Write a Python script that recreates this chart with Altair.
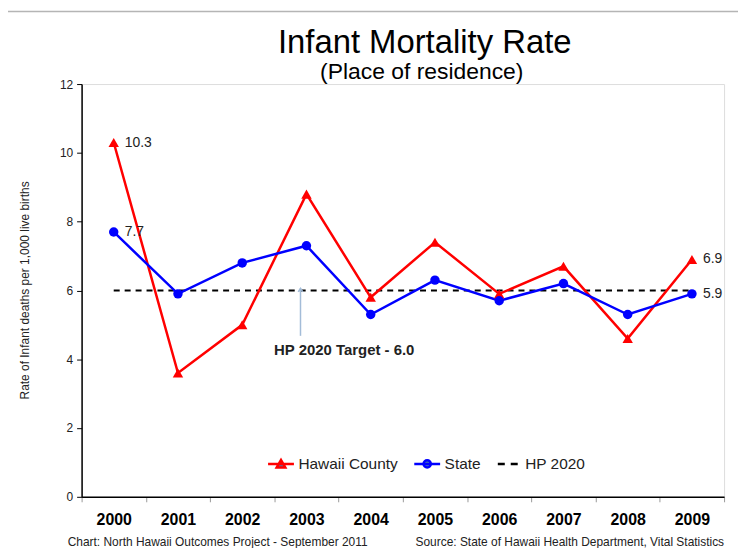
import altair as alt
import pandas as pd

# ---- data ----
years = ["2000", "2001", "2002", "2003", "2004", "2005", "2006", "2007", "2008", "2009"]
hawaii_county = [10.3, 3.6, 5.0, 8.8, 5.8, 7.4, 5.9, 6.7, 4.6, 6.9]
state = [7.7, 5.9, 6.8, 7.3, 5.3, 6.3, 5.7, 6.2, 5.3, 5.9]
hp2020 = [6.0, 6.0, 6.0, 6.0, 6.0, 6.0, 6.0, 6.0, 6.0, 6.0]
series_names = ["Hawaii County", "State", "HP 2020"]
series_colors = ["#ff0000", "#0000ff", "#000000"]
y_ticks = [0, 2, 4, 6, 8, 10, 12]

title_text = "Infant Mortality Rate"
subtitle_text = "(Place of residence)"
y_title = "Rate of Infant deaths per 1,000 live births"
footer_left = "Chart:  North Hawaii  Outcomes Project - September 2011"
footer_right = "Source:  State of Hawaii Health Department, Vital Statistics"
target_label = "HP 2020 Target - 6.0"
target_year = "2003"
arrow_top = 6.06
arrow_bottom = 4.68
target_text_y = 4.28

FONT = "Liberation Sans"

df_h = pd.DataFrame({"year": years, "value": hawaii_county, "series": "Hawaii County"})
df_s = pd.DataFrame({"year": years, "value": state, "series": "State"})
df_hp = pd.DataFrame({"year": years, "value": hp2020, "series": "HP 2020"})
df_lines = pd.concat([df_h, df_s], ignore_index=True)
df_all = pd.concat([df_h, df_s, df_hp], ignore_index=True)

# end labels: first and last point of each series
df_ends = pd.concat([df_h.iloc[[0, -1]], df_s.iloc[[0, -1]]], ignore_index=True)
df_ends["label"] = df_ends["value"].map(lambda v: f"{v:.1f}")

df_arrow = pd.DataFrame({"year": [target_year], "value": [arrow_top], "value2": [arrow_bottom]})
df_target_text = pd.DataFrame({"year": [target_year], "value": [target_text_y], "label": [target_label]})

x_enc = alt.X(
    "year:O",
    scale=alt.Scale(type="band", paddingInner=0, paddingOuter=0),
    axis=alt.Axis(
        title=None, labelAngle=0, labelFont=FONT, labelFontSize=16, labelFontWeight="bold",
        labelColor="#000000", labelPadding=10, tickBand="extent", tickColor="#999999",
        tickSize=5, domainColor="#000000", domainWidth=1.5, grid=False,
    ),
)
y_enc = alt.Y(
    "value:Q",
    scale=alt.Scale(domain=[0, 12], nice=False, zero=True),
    axis=alt.Axis(
        values=y_ticks, title=y_title, titleFont=FONT, titleFontSize=12, titleFontWeight="normal",
        titleColor="#222222", titleX=-57, titleY=207, titleAlign="center", titleBaseline="middle",
        labelFont=FONT, labelFontSize=12, labelColor="#222222", labelPadding=4,
        tickColor="#000000", tickSize=5, domainColor="#000000", domainWidth=1.5, grid=False,
    ),
)

legend_paths = [
    "M-1,0L1,0M-0.33,0.27L0,-0.3L0.33,0.27Z",
    "M-1,0L1,0M0.28,0C0.28,0.1546 0.1546,0.28 0,0.28C-0.1546,0.28 -0.28,0.1546 -0.28,0"
    "C-0.28,-0.1546 -0.1546,-0.28 0,-0.28C0.1546,-0.28 0.28,-0.1546 0.28,0Z",
    "M-0.77,0L-0.23,0M0.23,0L0.77,0",
]
leg = alt.Legend(
    title=None, orient="none", legendX=186, legendY=367, direction="horizontal",
    labelFont=FONT, labelFontSize=15.5, labelColor="#222222", symbolSize=676,
    symbolStrokeWidth=2.5, symbolOpacity=1, columnPadding=11, labelOffset=3,
)

lines = alt.Chart(df_lines).mark_line(strokeWidth=2.5).encode(
    x=x_enc, y=y_enc,
    color=alt.Color("series:N", scale=alt.Scale(domain=series_names, range=series_colors), legend=leg),
)
hp_line = alt.Chart(df_hp).mark_line(strokeWidth=2, strokeDash=[6, 5], color="#000000").encode(x=x_enc, y=y_enc)

pts_h = alt.Chart(df_h).mark_point(shape="triangle-up", filled=True, size=110, opacity=1, color="#ff0000").encode(x=x_enc, y=y_enc)
pts_s = alt.Chart(df_s).mark_point(shape="circle", filled=True, size=90, opacity=1, color="#0000ff").encode(x=x_enc, y=y_enc)

legend_layer = alt.Chart(df_all).mark_point(filled=True, opacity=0).encode(
    x=x_enc, y=y_enc,
    shape=alt.Shape("series:N", scale=alt.Scale(domain=series_names, range=legend_paths), legend=leg),
)

end_labels = alt.Chart(df_ends).mark_text(align="left", baseline="middle", dx=11, font=FONT, fontSize=14, color="#222222").encode(
    x=x_enc, y=y_enc, text="label:N"
)

arrow_line = alt.Chart(df_arrow).mark_rule(color="#a3bcd8", strokeWidth=1.5, xOffset=-6).encode(
    x=x_enc, y=y_enc, y2="value2:Q"
)
arrow_head = alt.Chart(df_arrow).mark_point(
    shape="M-0.6,0.9L0,0L0.6,0.9", filled=False, size=60, color="#a3bcd8", strokeWidth=1.5, opacity=1, xOffset=-6
).encode(x=x_enc, y=y_enc)
target_text = alt.Chart(df_target_text).mark_text(
    align="center", baseline="middle", dx=38, font=FONT, fontSize=15, fontWeight="bold", color="#222222"
).encode(x=x_enc, y=y_enc, text="label:N")

one = pd.DataFrame({"k": [0]})
title_mark = alt.Chart(one).mark_text(
    text=title_text, font=FONT, fontSize=33, color="#000000", align="center", baseline="alphabetic"
).encode(x=alt.value(345), y=alt.value(-31))
subtitle_mark = alt.Chart(one).mark_text(
    text=subtitle_text, font=FONT, fontSize=23, color="#000000", align="center", baseline="alphabetic"
).encode(x=alt.value(342), y=alt.value(-5))
foot_l = alt.Chart(one).mark_text(
    text=footer_left, font=FONT, fontSize=12, color="#222222", align="left", baseline="middle"
).encode(x=alt.value(-14), y=alt.value(460))
foot_r = alt.Chart(one).mark_text(
    text=footer_right, font=FONT, fontSize=12, color="#222222", align="right", baseline="middle"
).encode(x=alt.value(646), y=alt.value(460))

border_left = alt.Chart(one).mark_rule(color="#b5b5b5", strokeWidth=1.5).encode(
    x=alt.value(-77), y=alt.value(-73), y2=alt.value(480)
)
border_top = alt.Chart(one).mark_rule(color="#b5b5b5", strokeWidth=1.5).encode(
    x=alt.value(-77), x2=alt.value(670), y=alt.value(-73)
)

chart = alt.layer(
    border_left, border_top,
    hp_line, lines, pts_h, pts_s, end_labels,
    arrow_line, arrow_head, target_text, legend_layer,
    title_mark, subtitle_mark, foot_l, foot_r,
).properties(
    width=646, height=415,
    autosize=alt.AutoSizeParams(type="none"),
    padding={"left": 74, "top": 75, "right": 14, "bottom": 50},
).configure_view(
    stroke="#c0c0c0", strokeWidth=1.5
).configure(background="#ffffff")

chart.save("out.html", embed_options={"renderer": "svg", "actions": False})
